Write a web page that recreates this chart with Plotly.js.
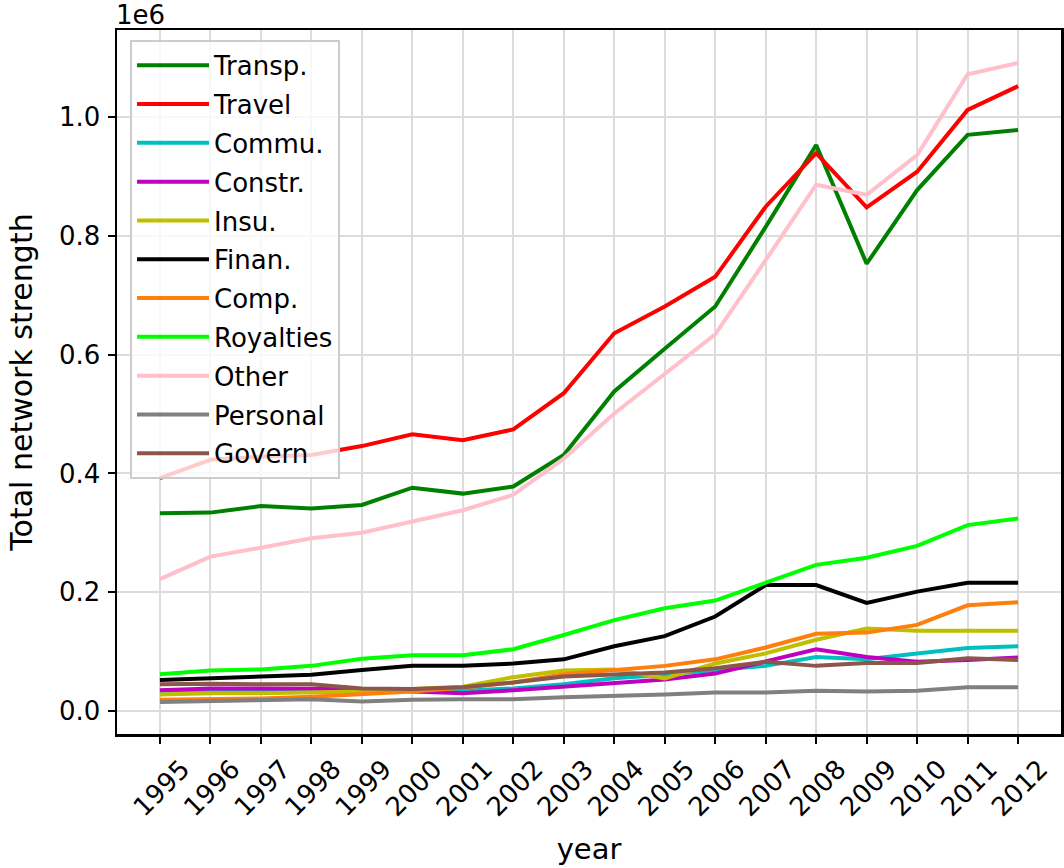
<!DOCTYPE html>
<html>
<head>
<meta charset="utf-8">
<script src="https://cdn.plot.ly/plotly-3.0.1.min.js"></script>
<style>
html,body{margin:0;padding:0;background:#fff;}
#chart{width:1064px;height:868px;}
</style>
</head>
<body>
<div id="chart"></div>
<script>
var years = [1995,1996,1997,1998,1999,2000,2001,2002,2003,2004,2005,2006,2007,2008,2009,2010,2011,2012];
var yearLabels = ["1995","1996","1997","1998","1999","2000","2001","2002","2003","2004","2005","2006","2007","2008","2009","2010","2011","2012"];

var transp    = [333000,334000,345000,341000,347000,376000,366000,378000,431000,538000,610000,681000,815000,953000,753000,877000,970000,978000];
var travel    = [392000,423000,428000,431000,446000,466000,456000,474000,535000,636000,681000,731000,849000,939000,848000,908000,1012000,1052000];
var commu     = [34000,35000,33000,33000,34000,33000,34000,38000,45000,55000,61000,69000,76000,91000,87000,97000,106000,109000];
var constr    = [35000,38000,38000,38000,37000,33000,30000,35000,41000,48000,53000,63000,83000,104000,91000,83000,86000,90000];
var insu      = [28000,30000,30000,31000,33000,37000,41000,57000,68000,70000,55000,80000,97000,120000,139000,135000,135000,135000];
var finan     = [52000,55000,58000,61000,69000,76000,76000,80000,87000,109000,126000,159000,212000,212000,182000,201000,216000,216000];
var comp      = [19000,20000,21000,24000,28000,33000,39000,48000,62000,69000,76000,87000,107000,130000,132000,145000,178000,183000];
var royalties = [62000,68000,70000,76000,88000,94000,94000,104000,128000,153000,173000,186000,216000,246000,258000,278000,313000,324000];
var other     = [222000,260000,275000,291000,300000,319000,338000,364000,425000,501000,568000,634000,759000,886000,869000,936000,1072000,1091000];
var personal  = [15000,17000,19000,20000,16000,19000,20000,20000,23000,25000,28000,31000,31000,34000,33000,34000,40000,40000];
var govern    = [45000,46000,45000,45000,38000,37000,40000,48000,58000,61000,65000,72000,83000,76000,81000,81000,89000,86000];

var seriesNames  = ["Transp.","Travel","Commu.","Constr.","Insu.","Finan.","Comp.","Royalties","Other","Personal","Govern"];
var seriesValues = [transp,travel,commu,constr,insu,finan,comp,royalties,other,personal,govern];
var seriesColors = ["#008000","#ff0000","#00bfbf","#bf00bf","#bfbf00","#000000","#ff7f0e","#00ff00","#ffc0cb","#808080","#8c564b"];

var yTickVals  = [0,200000,400000,600000,800000,1000000];
var yTickText  = ["0.0","0.2","0.4","0.6","0.8","1.0"];

var traces = seriesNames.map(function(n,i){
  return {
    x: years, y: seriesValues[i], name: n, type: 'scatter', mode: 'lines',
    line: {color: seriesColors[i], width: 4},
    legendgroup: 'g'+i, hoverinfo: 'x+y+name'
  };
});

var tickFont = {family: 'DejaVu Sans', size: 26, color: '#000'};

var layout = {
  width: 1064, height: 868,
  margin: {l: 117, r: 3, t: 30, b: 134, pad: 0},
  paper_bgcolor: '#ffffff', plot_bgcolor: '#ffffff',
  showlegend: true,
  legend: {
    x: 0.0138, y: 0.986, xanchor: 'left', yanchor: 'top',
    bgcolor: 'rgba(255,255,255,0.8)', bordercolor: '#cccccc', borderwidth: 2,
    font: {family: 'DejaVu Sans', size: 26, color: '#000'},
    traceorder: 'grouped', tracegroupgap: 2, itemwidth: 72
  },
  xaxis: {
    range: [1994.15, 2012.85], tickmode: 'array', tickvals: years, ticktext: yearLabels,
    tickangle: -45, tickfont: tickFont,
    showgrid: true, gridcolor: '#dcdcdc', gridwidth: 2,
    showline: true, linecolor: '#000', linewidth: 2.5, mirror: true,
    ticks: 'outside', ticklen: 7, tickwidth: 2, tickcolor: '#000',
    zeroline: false, ticklabelshift: 22,
    title: {text: 'year', font: {family: 'DejaVu Sans', size: 29, color: '#000'}, standoff: 18}
  },
  yaxis: {
    range: [-38700, 1146500], tickmode: 'array', tickvals: yTickVals, ticktext: yTickText,
    tickfont: tickFont,
    showgrid: true, gridcolor: '#dcdcdc', gridwidth: 2,
    showline: true, linecolor: '#000', linewidth: 2.5, mirror: true,
    ticks: 'outside', ticklen: 7, tickwidth: 2, tickcolor: '#000',
    zeroline: false, ticklabelstandoff: 2,
    title: {text: 'Total network strength', font: {family: 'DejaVu Sans', size: 30, color: '#000'}, standoff: 18}
  },
  annotations: [{
    text: '1e6', xref: 'paper', yref: 'paper', x: 0, y: 1, xanchor: 'left', yanchor: 'bottom',
    showarrow: false, font: {family: 'DejaVu Sans', size: 26, color: '#000'}, xshift: -3, yshift: -2
  }]
};

Plotly.newPlot('chart', traces, layout, {displayModeBar: false, staticPlot: true});
</script>
</body>
</html>
